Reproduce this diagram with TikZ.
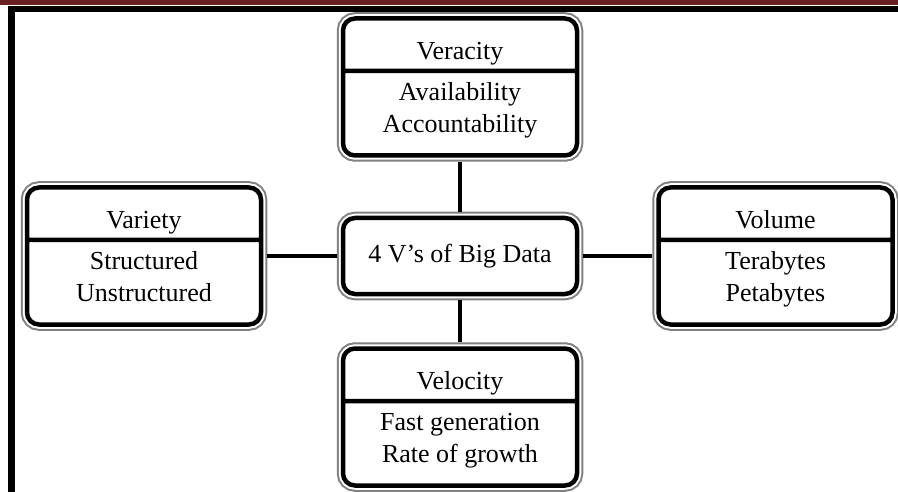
\documentclass[tikz,border=0pt]{standalone}
\usepackage{fontspec}
\setmainfont{Liberation Serif}
\usepackage{xcolor}
\usepackage{tikz}
\usetikzlibrary{shapes.multipart}
\definecolor{barred}{RGB}{104,32,34}
\tikzstyle{vframe} = [rounded corners=12pt, line width=4.5pt, draw=black, fill=white, outer sep=6.25pt, preaction={draw=black!50, line width=12.5pt}, preaction={draw=white, line width=8.5pt}]
\tikzstyle{vbox} = [vframe, rectangle split, rectangle split parts=2, minimum width=234pt, inner ysep=0pt, align=center]
\tikzstyle{hub} = [vframe, rectangle, minimum width=234pt, minimum height=76pt]
\tikzstyle{link} = [draw, line width=3.5pt]

\begin{document}
\begin{tikzpicture}[x=1pt, y=-1pt, node distance=169pt, font=\fontsize{26}{32}\selectfont]
   \useasboundingbox (0,0) rectangle (898,492);
   \fill [barred] (0,0) rectangle (898,5.5);
   \fill [black] (8,6.5) rectangle (898,12);
   \fill [black] (8,6.5) rectangle (15,492);
   \node (c) [hub] at (460,256) {4 V’s of Big Data};
   \node (ver) [vbox, above of=c] {\rule[-9pt]{0pt}{48pt}Veracity
      \nodepart{two}\rule{0pt}{27pt}Availability\\Accountability\rule[-21pt]{0pt}{21pt}};
   \node (vel) [vbox, node distance=161pt, below of=c] {\rule[-9pt]{0pt}{48pt}Velocity
      \nodepart{two}\rule{0pt}{27pt}Fast generation\\Rate of growth\rule[-21pt]{0pt}{21pt}};
   \node (var) [vbox, node distance=316pt, left of=c] {\rule[-9pt]{0pt}{48pt}Variety
      \nodepart{two}\rule{0pt}{27pt}Structured\\Unstructured\rule[-21pt]{0pt}{21pt}};
   \node (vol) [vbox, node distance=315.5pt, right of=c] {\rule[-9pt]{0pt}{48pt}Volume
      \nodepart{two}\rule{0pt}{27pt}Terabytes\\Petabytes\rule[-21pt]{0pt}{21pt}};
   \draw [link] (c) -- (ver);
   \draw [link] (c) -- (vel);
   \draw [link] (c) -- (var);
   \draw [link] (c) -- (vol);
\end{tikzpicture}
\end{document}
